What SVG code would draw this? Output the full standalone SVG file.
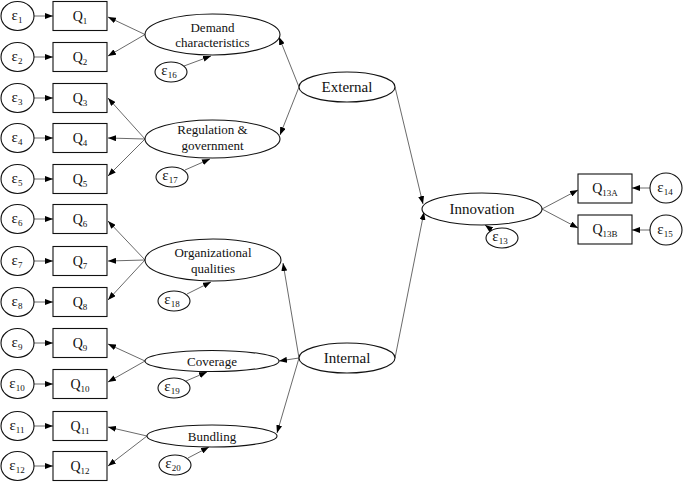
<svg xmlns="http://www.w3.org/2000/svg" width="685" height="482" viewBox="0 0 685 482">
<defs>
<marker id="ah" markerUnits="userSpaceOnUse" markerWidth="8" markerHeight="6" refX="8" refY="3" orient="auto">
<path d="M0,0 L8,3 L0,6 z" fill="#000"/>
</marker>
<style>
text{fill:#111;text-anchor:middle}
.q{font-size:14px}
.e{font-size:15px}
.sub{font-size:9px}
.f{font-size:13px}
.big{font-size:15px}
rect,ellipse{fill:#fff;stroke:#111;stroke-width:1.1}
.c line{stroke:#444;stroke-width:0.8;marker-end:url(#ah)}
</style>
</defs>
<rect width="685" height="482" fill="#fff" style="stroke:none"/>
<g font-family="Liberation Serif, Times New Roman, serif">
<g class="c" id="connectors">
<line x1="34" y1="16" x2="53" y2="16"/>
<line x1="34" y1="57" x2="53" y2="57"/>
<line x1="34" y1="98" x2="53" y2="98"/>
<line x1="34" y1="138" x2="53" y2="138"/>
<line x1="34" y1="179" x2="53" y2="179"/>
<line x1="34" y1="219" x2="53" y2="219"/>
<line x1="34" y1="261" x2="53" y2="261"/>
<line x1="34" y1="302" x2="53" y2="302"/>
<line x1="34" y1="343" x2="53" y2="343"/>
<line x1="34" y1="384" x2="53" y2="384"/>
<line x1="34" y1="426" x2="53" y2="426"/>
<line x1="34" y1="466" x2="53" y2="466"/>
<line x1="145" y1="34.5" x2="108" y2="17"/>
<line x1="145" y1="34.5" x2="108" y2="56"/>
<line x1="145" y1="139" x2="108" y2="98"/>
<line x1="145" y1="139" x2="108" y2="138"/>
<line x1="145" y1="139" x2="108" y2="176"/>
<line x1="145" y1="260" x2="108" y2="221"/>
<line x1="145" y1="260" x2="108" y2="261"/>
<line x1="145" y1="260" x2="108" y2="300"/>
<line x1="145" y1="361" x2="108" y2="344"/>
<line x1="145" y1="361" x2="108" y2="382"/>
<line x1="147" y1="436" x2="108" y2="427"/>
<line x1="147" y1="436" x2="108" y2="466"/>
<line x1="184" y1="66" x2="211" y2="56"/>
<line x1="185" y1="170" x2="210" y2="159"/>
<line x1="187" y1="294" x2="211" y2="282"/>
<line x1="186" y1="381" x2="207" y2="372"/>
<line x1="188" y1="458" x2="209" y2="447"/>
<line x1="493" y1="231" x2="485" y2="225"/>
<line x1="299" y1="87" x2="279" y2="37"/>
<line x1="299" y1="87" x2="280" y2="135"/>
<line x1="395" y1="87" x2="423" y2="204"/>
<line x1="299" y1="358" x2="283" y2="263"/>
<line x1="299" y1="358" x2="279" y2="361"/>
<line x1="299" y1="358" x2="277" y2="433"/>
<line x1="395" y1="358" x2="424" y2="212"/>
<line x1="542" y1="209" x2="578" y2="190"/>
<line x1="542" y1="209" x2="578" y2="228"/>
<line x1="650" y1="188" x2="632" y2="188"/>
<line x1="650" y1="230" x2="632" y2="230"/>
</g>

<g id="e1"><ellipse cx="17.5" cy="16" rx="16.5" ry="14.5"/><text class="e" x="17" y="20">ε<tspan class="sub" dy="3">1</tspan></text></g>
<g id="e2"><ellipse cx="17.5" cy="57" rx="16.5" ry="14.5"/><text class="e" x="17" y="61">ε<tspan class="sub" dy="3">2</tspan></text></g>
<g id="e3"><ellipse cx="17.5" cy="98" rx="16.5" ry="14.5"/><text class="e" x="17" y="102">ε<tspan class="sub" dy="3">3</tspan></text></g>
<g id="e4"><ellipse cx="17.5" cy="138" rx="16.5" ry="14.5"/><text class="e" x="17" y="142">ε<tspan class="sub" dy="3">4</tspan></text></g>
<g id="e5"><ellipse cx="17.5" cy="179" rx="16.5" ry="14.5"/><text class="e" x="17" y="183">ε<tspan class="sub" dy="3">5</tspan></text></g>
<g id="e6"><ellipse cx="17.5" cy="219" rx="16.5" ry="14.5"/><text class="e" x="17" y="223">ε<tspan class="sub" dy="3">6</tspan></text></g>
<g id="e7"><ellipse cx="17.5" cy="261" rx="16.5" ry="14.5"/><text class="e" x="17" y="265">ε<tspan class="sub" dy="3">7</tspan></text></g>
<g id="e8"><ellipse cx="17.5" cy="302" rx="16.5" ry="14.5"/><text class="e" x="17" y="306">ε<tspan class="sub" dy="3">8</tspan></text></g>
<g id="e9"><ellipse cx="17.5" cy="343" rx="16.5" ry="14.5"/><text class="e" x="17" y="347">ε<tspan class="sub" dy="3">9</tspan></text></g>
<g id="e10"><ellipse cx="17.5" cy="384" rx="16.5" ry="14.5"/><text class="e" x="17" y="388">ε<tspan class="sub" dy="3">10</tspan></text></g>
<g id="e11"><ellipse cx="17.5" cy="426" rx="16.5" ry="14.5"/><text class="e" x="17" y="430">ε<tspan class="sub" dy="3">11</tspan></text></g>
<g id="e12"><ellipse cx="17.5" cy="466" rx="16.5" ry="14.5"/><text class="e" x="17" y="470">ε<tspan class="sub" dy="3">12</tspan></text></g>

<g id="q1"><rect x="53" y="1.5" width="54" height="29"/><text class="q" x="80" y="21">Q<tspan class="sub" dy="3">1</tspan></text></g>
<g id="q2"><rect x="53" y="42.5" width="54" height="29"/><text class="q" x="80" y="62">Q<tspan class="sub" dy="3">2</tspan></text></g>
<g id="q3"><rect x="53" y="83.5" width="54" height="29"/><text class="q" x="80" y="103">Q<tspan class="sub" dy="3">3</tspan></text></g>
<g id="q4"><rect x="53" y="123.5" width="54" height="29"/><text class="q" x="80" y="143">Q<tspan class="sub" dy="3">4</tspan></text></g>
<g id="q5"><rect x="53" y="164.5" width="54" height="29"/><text class="q" x="80" y="184">Q<tspan class="sub" dy="3">5</tspan></text></g>
<g id="q6"><rect x="53" y="204.5" width="54" height="29"/><text class="q" x="80" y="224">Q<tspan class="sub" dy="3">6</tspan></text></g>
<g id="q7"><rect x="53" y="246.5" width="54" height="29"/><text class="q" x="80" y="266">Q<tspan class="sub" dy="3">7</tspan></text></g>
<g id="q8"><rect x="53" y="287.5" width="54" height="29"/><text class="q" x="80" y="307">Q<tspan class="sub" dy="3">8</tspan></text></g>
<g id="q9"><rect x="53" y="328.5" width="54" height="29"/><text class="q" x="80" y="348">Q<tspan class="sub" dy="3">9</tspan></text></g>
<g id="q10"><rect x="53" y="369.5" width="54" height="29"/><text class="q" x="80" y="389">Q<tspan class="sub" dy="3">10</tspan></text></g>
<g id="q11"><rect x="53" y="411.5" width="54" height="29"/><text class="q" x="80" y="431">Q<tspan class="sub" dy="3">11</tspan></text></g>
<g id="q12"><rect x="53" y="451.5" width="54" height="29"/><text class="q" x="80" y="471">Q<tspan class="sub" dy="3">12</tspan></text></g>

<g id="demand"><ellipse cx="212.5" cy="34.5" rx="67.5" ry="20.5"/><text class="f" x="212.5" y="32">Demand</text><text class="f" x="212.5" y="47">characteristics</text></g>
<g id="regulation"><ellipse cx="212.5" cy="139" rx="67.5" ry="19"/><text class="f" x="212.5" y="134">Regulation &amp;</text><text class="f" x="212.5" y="150">government</text></g>
<g id="organizational"><ellipse cx="213" cy="260" rx="68" ry="21"/><text class="f" x="213" y="257">Organizational</text><text class="f" x="213" y="273">qualities</text></g>
<g id="coverage"><ellipse cx="212" cy="361" rx="67" ry="10.5"/><text class="f" x="212" y="365.5">Coverage</text></g>
<g id="bundling"><ellipse cx="212" cy="436" rx="65" ry="11"/><text class="f" x="212" y="440.5">Bundling</text></g>

<g id="e16"><ellipse cx="171" cy="72" rx="16" ry="10"/><text class="e" x="169" y="75">ε<tspan class="sub" dy="3">16</tspan></text></g>
<g id="e17"><ellipse cx="172" cy="177" rx="16" ry="10"/><text class="e" x="170" y="180">ε<tspan class="sub" dy="3">17</tspan></text></g>
<g id="e18"><ellipse cx="174" cy="301" rx="16" ry="10"/><text class="e" x="172" y="304">ε<tspan class="sub" dy="3">18</tspan></text></g>
<g id="e19"><ellipse cx="174" cy="388" rx="16" ry="10"/><text class="e" x="172" y="391">ε<tspan class="sub" dy="3">19</tspan></text></g>
<g id="e20"><ellipse cx="175" cy="465" rx="16" ry="10"/><text class="e" x="173" y="468">ε<tspan class="sub" dy="3">20</tspan></text></g>

<g id="external"><ellipse cx="347" cy="87" rx="48" ry="15"/><text class="big" x="347" y="92">External</text></g>
<g id="internal"><ellipse cx="347" cy="358" rx="48" ry="15"/><text class="big" x="347" y="363">Internal</text></g>

<g id="innovation"><ellipse cx="482" cy="209" rx="60" ry="16"/><text class="big" x="482" y="214">Innovation</text></g>
<g id="e13"><ellipse cx="502" cy="238" rx="16" ry="10"/><text class="e" x="500" y="241">ε<tspan class="sub" dy="3">13</tspan></text></g>

<g id="q13a"><rect x="578" y="174" width="54" height="29"/><text class="q" x="605" y="193">Q<tspan class="sub" dy="3">13A</tspan></text></g>
<g id="q13b"><rect x="578" y="215" width="54" height="29"/><text class="q" x="605" y="234">Q<tspan class="sub" dy="3">13B</tspan></text></g>
<g id="e14"><ellipse cx="666" cy="188" rx="16" ry="15"/><text class="e" x="665" y="192">ε<tspan class="sub" dy="3">14</tspan></text></g>
<g id="e15"><ellipse cx="666" cy="230" rx="16" ry="15"/><text class="e" x="665" y="234">ε<tspan class="sub" dy="3">15</tspan></text></g>
</g>
</svg>
